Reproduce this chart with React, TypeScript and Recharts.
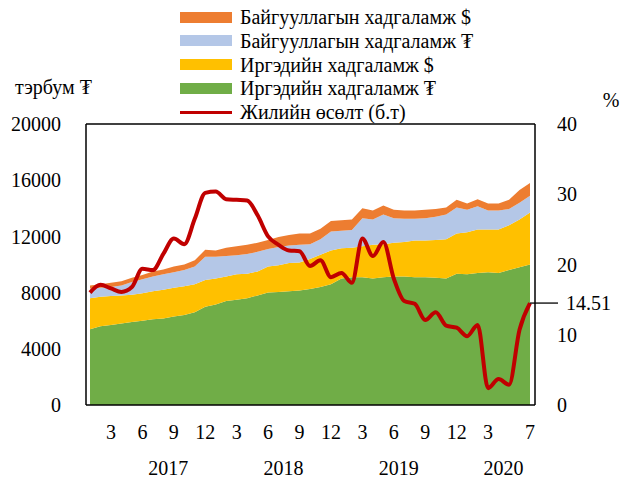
import React from "react";
import {
  ComposedChart,
  Area,
  Line,
  XAxis,
  YAxis,
  Legend,
  ReferenceLine,
  LabelList,
} from "recharts";

const years = [2017, 2018, 2019, 2020];
const lastMonth = 7;

// тэрбум ₮, stacked bottom to top
const irgedTugrug = [5400, 5600, 5700, 5800, 5900, 6000, 6100, 6150, 6300, 6400, 6600, 7000, 7150, 7400, 7500, 7600, 7800, 8000, 8050, 8100, 8150, 8250, 8400, 8600, 9000, 9100, 9100, 9000, 9100, 9150, 9150, 9100, 9100, 9050, 9000, 9350, 9300, 9400, 9450, 9400, 9600, 9800, 10000];
const irgedDollar = [2200, 2100, 2050, 2000, 1950, 1950, 2000, 2050, 2050, 2050, 2000, 1900, 1850, 1750, 1800, 1750, 1700, 1850, 1900, 2000, 2000, 2150, 2300, 2400, 2150, 2100, 2200, 2400, 2350, 2400, 2450, 2600, 2600, 2700, 2800, 2850, 3000, 3100, 3050, 3100, 3200, 3400, 3700];
const baiguullagaTugrug = [700, 650, 650, 700, 900, 1000, 1050, 1100, 1100, 1150, 1250, 1650, 1550, 1450, 1350, 1400, 1400, 1250, 1300, 1250, 1250, 1050, 1100, 1350, 1250, 1250, 2000, 1800, 2100, 1750, 1650, 1550, 1600, 1650, 1750, 1850, 1600, 1650, 1350, 1350, 1150, 1200, 1200];
const baiguullagaDollar = [200, 250, 300, 300, 300, 300, 350, 350, 400, 400, 450, 500, 450, 600, 650, 650, 650, 650, 700, 750, 800, 750, 750, 750, 750, 750, 700, 650, 650, 600, 600, 600, 600, 550, 500, 550, 450, 500, 500, 500, 650, 900, 900];
// %, right axis
const growth = [16.0, 17.1, 16.6, 16.1, 16.8, 19.4, 19.2, 21.5, 23.7, 22.9, 26.5, 30.2, 30.4, 29.3, 29.2, 29.1, 27.0, 24.0, 22.8, 22.0, 21.9, 19.8, 20.6, 18.2, 18.8, 17.4, 23.7, 21.2, 23.2, 18.0, 14.8, 14.4, 12.1, 13.2, 11.3, 11.0, 9.8, 11.4, 2.4, 3.7, 2.9, 10.7, 14.51];

const leftTicks = [0, 4000, 8000, 12000, 16000, 20000];
const rightTicks = [0, 10, 20, 30, 40];
const monthTicks = [3, 6, 9, 12];
const yearLabelMonth = [8, 7, 6, 4];

const series = [
  { key: "bd", name: "Байгууллагын хадгаламж $", color: "#ED7D31" },
  { key: "bt", name: "Байгууллагын хадгаламж ₮", color: "#B4C7E7" },
  { key: "id", name: "Иргэдийн хадгаламж $", color: "#FFC000" },
  { key: "it", name: "Иргэдийн хадгаламж ₮", color: "#70AD47" },
];
const lineName = "Жилийн өсөлт (б.т)";
const lineColor = "#C00000";

const FONT = "'Liberation Serif', 'Times New Roman', serif";

const data: any[] = [];
years.forEach((yr) => {
  for (let m = 1; m <= 12; m++) {
    if (yr === years[years.length - 1] && m > lastMonth) break;
    const i = data.length;
    data.push({
      key: `${yr}-${m}`,
      year: yr,
      month: m,
      it: irgedTugrug[i],
      id: irgedDollar[i],
      bt: baiguullagaTugrug[i],
      bd: baiguullagaDollar[i],
      growth: growth[i],
    });
  }
});
const lastIdx = data.length - 1;

// the last month is always labelled; regular ticks too close to it are dropped
const shownMonth = (d: any, i: number) => i === lastIdx || (monthTicks.includes(d.month) && lastIdx - i > 2);
const shownYear = (d: any) => yearLabelMonth[years.indexOf(d.year)] === d.month;
const tickKeys = data.filter((d, i) => shownMonth(d, i) || shownYear(d)).map((d) => d.key);

function MonthYearTick(props: any) {
  const { x, y, payload } = props;
  const i = data.findIndex((d) => d.key === payload.value);
  const d = data[i];
  if (!d) return null;
  return (
    <g>
      {shownMonth(d, i) && (
        <text x={x} y={y + 19} textAnchor="middle" dominantBaseline="central" fontSize={20} fontFamily={FONT} fill="#000">
          {d.month}
        </text>
      )}
      {shownYear(d) && (
        <text x={x + 5} y={y + 55} textAnchor="middle" dominantBaseline="central" fontSize={20} fontFamily={FONT} fill="#000">
          {d.year}
        </text>
      )}
    </g>
  );
}

function LegendBox() {
  const rows = [...series.map((s) => ({ name: s.name, color: s.color, line: false })), { name: lineName, color: lineColor, line: true }];
  return (
    <div style={{ position: "relative", width: 634, height: 125, fontFamily: FONT, fontSize: 20 }}>
      {rows.map((r, i) => (
        <div key={r.name} style={{ position: "absolute", left: 180, top: 5 + i * 23.8, height: 24, display: "flex", alignItems: "center" }}>
          <div style={{ width: 52, height: r.line ? 3 : 11, background: r.color }} />
          <span style={{ marginLeft: 8, lineHeight: "24px", color: "#000", whiteSpace: "nowrap" }}>{r.name}</span>
        </div>
      ))}
    </div>
  );
}

function LastValue(props: any) {
  const { x, y, value, index } = props;
  if (index !== lastIdx) return null;
  return (
    <g>
      <line x1={x} y1={y} x2={x + 28} y2={y} stroke="#000" strokeWidth={1.3} />
      <text x={x + 36} y={y} dominantBaseline="central" fontSize={20} fontFamily={FONT} fill="#000">
        {value}
      </text>
    </g>
  );
}

export default function App() {
  return (
    <div style={{ position: "absolute", left: 0, top: 0, width: 634, height: 479, background: "#fff" }}>
      <ComposedChart width={634} height={479} data={data} margin={{ top: 124, right: 49, bottom: 0, left: 36 }}>
        <XAxis
          dataKey="key"
          xAxisId="x"
          ticks={tickKeys}
          interval={0}
          tick={<MonthYearTick />}
          tickLine={false}
          axisLine={{ stroke: "#000", strokeWidth: 1.5 }}
          height={74}
          padding={{ left: 4, right: 5 }}
        />
        <YAxis
          yAxisId="left"
          domain={[0, 20000]}
          ticks={leftTicks}
          interval={0}
          tickLine={false}
          axisLine={{ stroke: "#000", strokeWidth: 1.5 }}
          width={50}
          tick={{ fontSize: 20, fontFamily: FONT, fill: "#000" }}
          tickMargin={19}
          label={{
            content: (p: any) => (
              <text x={p.viewBox.x - 21} y={p.viewBox.y - 37} dominantBaseline="central" fontSize={20} fontFamily={FONT} fill="#000">
                тэрбум ₮
              </text>
            ),
          }}
        />
        <YAxis
          yAxisId="right"
          orientation="right"
          domain={[0, 40]}
          ticks={rightTicks}
          interval={0}
          tickLine={false}
          axisLine={{ stroke: "#000", strokeWidth: 1.5 }}
          width={50}
          tick={{ fontSize: 20, fontFamily: FONT, fill: "#000" }}
          tickMargin={16}
          label={{
            content: (p: any) => (
              <text x={p.viewBox.x + 76} y={p.viewBox.y - 24} textAnchor="middle" dominantBaseline="central" fontSize={20} fontFamily={FONT} fill="#000">
                %
              </text>
            ),
          }}
        />
        <Legend
          layout="vertical"
          align="center"
          verticalAlign="middle"
          content={() => <LegendBox />}
          wrapperStyle={{ top: 0, left: 0, width: 634, height: 125 }}
        />
        {[...series].reverse().map((s) => (
          <Area
            key={s.key}
            xAxisId="x"
            yAxisId="left"
            type="linear"
            dataKey={s.key}
            name={s.name}
            stackId="dep"
            stroke="none"
            fill={s.color}
            fillOpacity={1}
            isAnimationActive={false}
          />
        ))}
        <ReferenceLine xAxisId="x" yAxisId="left" y={20000} stroke="#000" strokeWidth={1.5} />
        <Line
          xAxisId="x"
          yAxisId="right"
          type="monotone"
          dataKey="growth"
          name={lineName}
          stroke={lineColor}
          strokeWidth={4}
          dot={false}
          isAnimationActive={false}
        >
          <LabelList dataKey="growth" content={<LastValue />} />
        </Line>
      </ComposedChart>
    </div>
  );
}
